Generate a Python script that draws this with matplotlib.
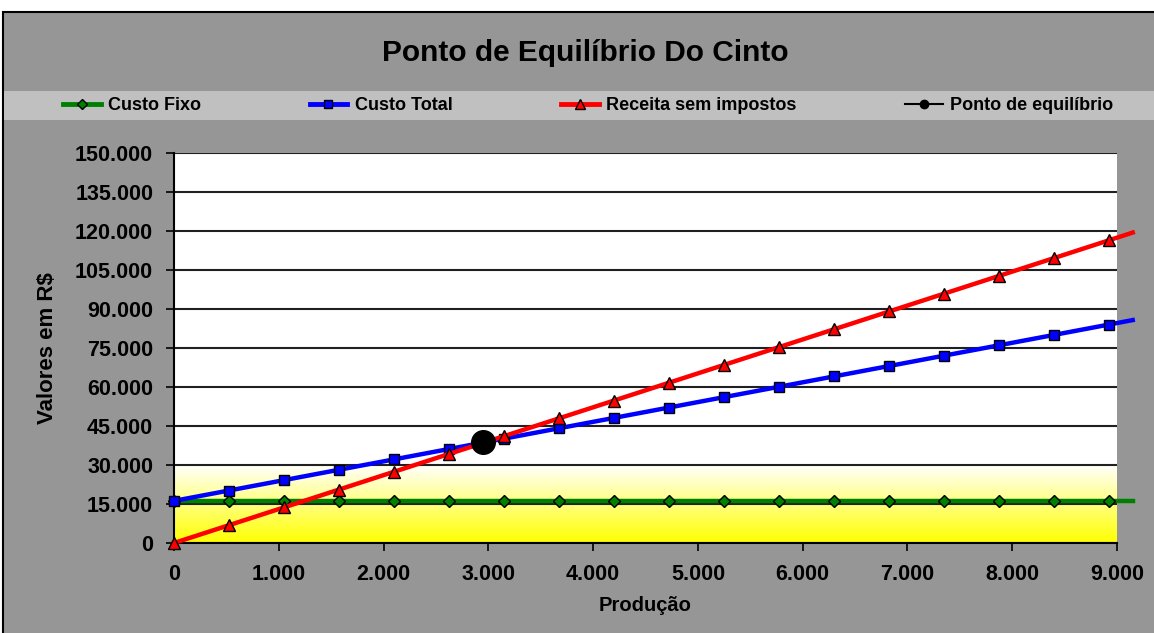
import numpy as np
import matplotlib
matplotlib.use("Agg")
import matplotlib.pyplot as plt
from matplotlib.lines import Line2D
from matplotlib.patches import Rectangle
from matplotlib.colors import LinearSegmentedColormap
from matplotlib.ticker import FuncFormatter, MultipleLocator

plt.rcParams['font.family'] = ['Liberation Sans', 'DejaVu Sans']
plt.rcParams['font.weight'] = 'bold'

# quantidade produzida (a última posição só prolonga a linha, sem marcador)
producao = [0, 525, 1050, 1575, 2100, 2625, 3150, 3675, 4200, 4725,
            5250, 5775, 6300, 6825, 7350, 7875, 8400, 8925, 9150]
custo_fixo = [16200] * len(producao)
custo_total = [16200, 20190, 24180, 28170, 32160, 36150, 40140, 44130, 48120, 52110,
               56100, 60090, 64080, 68070, 72060, 76050, 80040, 84030, 85740]
receita = [0, 6850, 13700, 20550, 27400, 34250, 41100, 47950, 54800, 61650,
           68500, 75350, 82200, 89050, 95900, 102750, 109600, 116450, 119400]
equilibrio_x = [2950]
equilibrio_y = [39000]

W, H = 1154, 633
fig = plt.figure(figsize=(W / 100, H / 100), dpi=100, facecolor='white')

# fundo cinza do gráfico com borda preta
fig.patches.append(Rectangle((3 / W, -0.05), 1.1, 1 - 12 / H + 0.05, transform=fig.transFigure,
                             facecolor='#969696', edgecolor='black', linewidth=1.5, zorder=-2))
# faixa da legenda
fig.patches.append(Rectangle((4 / W, 1 - 120 / H), 1.0, 29 / H, transform=fig.transFigure,
                             facecolor='#c0c0c0', edgecolor='none', zorder=-1))

fig.text(585 / W, 1 - 61 / H, 'Ponto de Equilíbrio Do Cinto', ha='center', va='baseline',
         fontsize=21.5, fontweight='bold')

ax = fig.add_axes([174 / W, 1 - 543 / H, (1117 - 174) / W, (543 - 153) / H], zorder=1)
ax.set_facecolor('white')
ax.set_xlim(0, 9000)
ax.set_ylim(0, 150000)

# degradê amarelo na faixa inferior
grad = np.linspace(0, 1, 256).reshape(-1, 1)
cmap = LinearSegmentedColormap.from_list('amarelo', ['#ffff00', '#ffffff'])
ax.imshow(grad, extent=[0, 9000, 0, 30000], origin='lower', aspect='auto', cmap=cmap, zorder=0)

ax.yaxis.set_major_locator(MultipleLocator(15000))
ax.xaxis.set_major_locator(MultipleLocator(1000))
ax.grid(axis='y', color='#202020', linewidth=1.5, zorder=1)
ax.set_axisbelow(True)

fmt = FuncFormatter(lambda v, p: f'{int(v):,}'.replace(',', '.'))
ax.yaxis.set_major_formatter(fmt)
ax.xaxis.set_major_formatter(fmt)
ax.tick_params(axis='both', direction='out', length=6, width=1.2, labelsize=15.5)
ax.tick_params(axis='y', pad=9)
ax.tick_params(axis='x', pad=9)
for lab in ax.get_xticklabels() + ax.get_yticklabels():
    lab.set_fontweight('bold')

for s in ['top', 'right']:
    ax.spines[s].set_visible(False)
for s in ['left', 'bottom']:
    ax.spines[s].set_linewidth(1.5)
    ax.spines[s].set_color('black')

ax.set_xlabel('Produção', fontsize=14.5, fontweight='bold', labelpad=8)
ax.set_ylabel('Valores em R$', fontsize=16, fontweight='bold', labelpad=12)

marks = slice(0, -1)
ax.plot(producao, custo_fixo, color='#008000', lw=3.2, marker='D', ms=6, mfc='#008000',
        mec='black', mew=1, markevery=marks, clip_on=False, zorder=3)
ax.plot(producao, custo_total, color='#0000ff', lw=3.2, marker='s', ms=7, mfc='#0000ff',
        mec='black', mew=1, markevery=marks, clip_on=False, zorder=4)
ax.plot(producao, receita, color='#ff0000', lw=3.2, marker='^', ms=8.5, mfc='#ff0000',
        mec='black', mew=1, markevery=marks, clip_on=False, zorder=5)
ax.plot(equilibrio_x, equilibrio_y, 'o', color='black', ms=17, zorder=6)

handles = [
    Line2D([], [], color='#008000', lw=3.5, marker='D', ms=5, mfc='#008000', mec='black'),
    Line2D([], [], color='#0000ff', lw=3.5, marker='s', ms=6, mfc='#0000ff', mec='black'),
    Line2D([], [], color='#ff0000', lw=3.5, marker='^', ms=7, mfc='#ff0000', mec='black'),
    Line2D([], [], color='black', lw=1.5, marker='o', ms=6),
]
labels = ['Custo Fixo', 'Custo Total', 'Receita sem impostos', 'Ponto de equilíbrio']
fig.legend(handles, labels, ncol=4, mode='expand', frameon=False,
           bbox_to_anchor=(63 / W, 1 - 120 / H, (1113 - 63) / W, 29 / H), loc='center',
           prop={'size': 13, 'weight': 'bold'}, handlelength=2.1, handletextpad=0.4,
           borderaxespad=0, borderpad=0)

fig.savefig('out.png', dpi=100, facecolor='white')
